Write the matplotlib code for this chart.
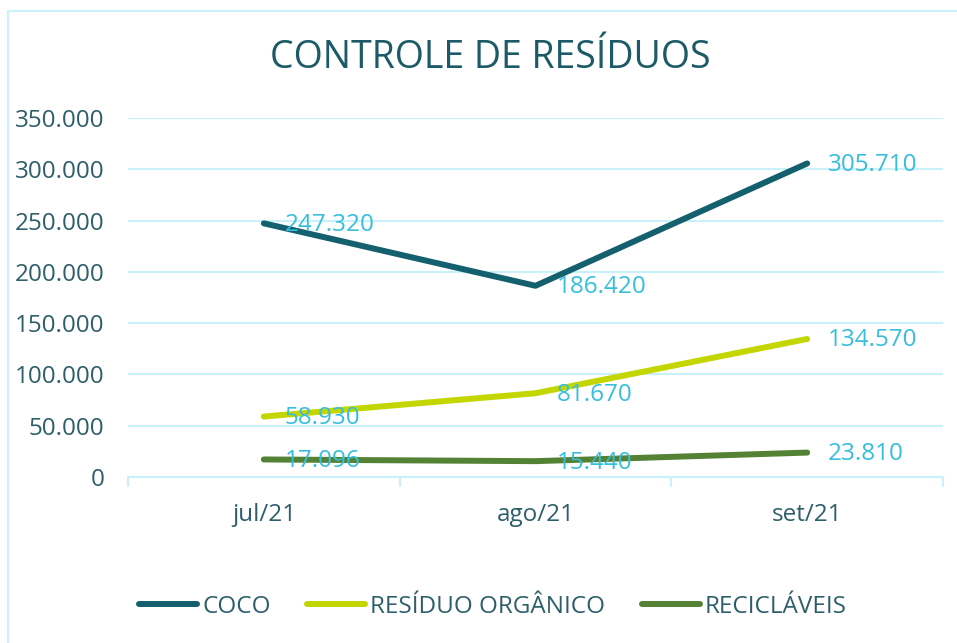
import matplotlib
matplotlib.use("Agg")
import matplotlib.pyplot as plt
from matplotlib.patches import Rectangle

plt.rcParams['font.family'] = ['Open Sans', 'DejaVu Sans']

# data
months = ["jul/21", "ago/21", "set/21"]
coco = [247320, 186420, 305710]
organico = [58930, 81670, 134570]
reciclaveis = [17096, 15440, 23810]
yticks = [0, 50000, 100000, 150000, 200000, 250000, 300000, 350000]

W, H = 957, 643
fig = plt.figure(figsize=(W / 100, H / 100), dpi=100)
ax = fig.add_axes([128 / W, 1 - 477 / H, (943 - 128) / W, (477 - 118) / H])

grid_c = "#C8F1FA"
txt_c = "#2D5F6B"
lab_c = "#35BEDD"
fs = 17.5

def fmt(v):
    return f"{v:,.0f}".replace(",", ".")

x = range(len(months))
series = [("COCO", coco, "#14606F"),
          ("RESÍDUO ORGÂNICO", organico, "#C3D600"),
          ("RECICLÁVEIS", reciclaveis, "#548235")]
for name, vals, col in series:
    ax.plot(x, vals, color=col, lw=4.3, solid_capstyle="round", label=name)
    for xi, v in zip(x, vals):
        ax.annotate(fmt(v), (xi, v), xytext=(15, -1), textcoords="offset points",
                    color=lab_c, fontsize=fs, va="center", ha="left")

ax.set_xlim(-0.5, 2.5)
ax.set_ylim(0, 350000)
ax.set_yticks(yticks)
ax.set_yticklabels([fmt(v) for v in yticks])
ax.set_xticks(list(x))
ax.set_xticklabels(months)
ax.set_xticks([-0.5, 0.5, 1.5, 2.5], minor=True)
ax.tick_params(axis="y", length=0, pad=17, labelsize=fs, labelcolor=txt_c)
ax.tick_params(axis="x", which="major", length=0, pad=19, labelsize=fs, labelcolor=txt_c)
ax.tick_params(axis="x", which="minor", length=7.5, width=1.5, color=grid_c)
ax.grid(axis="y", color=grid_c, lw=1.5)
ax.set_axisbelow(True)
for s in ["top", "right", "left"]:
    ax.spines[s].set_visible(False)
ax.spines["bottom"].set_color(grid_c)
ax.spines["bottom"].set_linewidth(1.5)

fig.text(490 / W, 1 - 58 / H, "CONTROLE DE RESÍDUOS", ha="center", va="center",
         fontsize=27, color="#1B5A66")

leg = fig.legend(loc="center", bbox_to_anchor=(493 / W, 1 - 607 / H), ncol=3,
                 frameon=False, fontsize=fs, handlelength=2.4, handletextpad=0.2,
                 columnspacing=1.5, labelcolor=txt_c)

fig.patches.append(Rectangle((8 / W, -0.1), 1.2, 1 - 11 / H + 0.1, transform=fig.transFigure,
                             fill=False, edgecolor=grid_c, lw=1.5))

fig.savefig("out.png", dpi=100)
